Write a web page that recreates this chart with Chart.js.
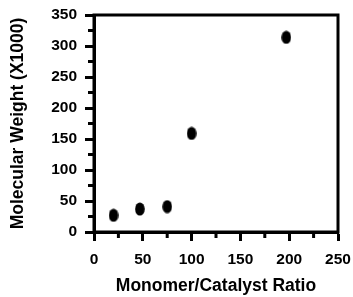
<!DOCTYPE html>
<html>
<head>
<meta charset="utf-8">
<script src="https://cdn.jsdelivr.net/npm/chart.js@4.4.0/dist/chart.umd.min.js"></script>
<style>
  html, body { margin: 0; padding: 0; background: #fff; }
  #wrap { width: 353px; height: 297px; position: relative; }
</style>
</head>
<body>
<div id="wrap"><canvas id="mwChart"></canvas></div>
<script>
// Monomer/catalyst ratio vs molecular weight (x1000)
const ratios = [20, 47, 75, 100, 197];
const molWeights = [27, 37, 41, 159, 314];
const xTicks = [0, 50, 100, 150, 200, 250];
const yTicks = [0, 50, 100, 150, 200, 250, 300, 350];

// dots in the original are slightly taller than wide
const dot = document.createElement("canvas");
dot.width = 10;
dot.height = 14;
const dctx = dot.getContext("2d");
dctx.fillStyle = "#000";
dctx.beginPath();
dctx.ellipse(5, 7, 4.8, 6.6, 0, 0, Math.PI * 2);
dctx.fill();

// box around the plot + short minor ticks between labelled ones
const framePlugin = {
  id: "frame",
  afterDraw(chart) {
    const { ctx, chartArea, scales } = chart;
    ctx.save();
    ctx.strokeStyle = "#000";
    ctx.lineWidth = 3;
    ctx.strokeRect(chartArea.left, chartArea.top, chartArea.right - chartArea.left, chartArea.bottom - chartArea.top);
    ctx.beginPath();
    for (let v = 25; v < 350; v += 50) {
      const y = scales.y.getPixelForValue(v);
      ctx.moveTo(chartArea.left, y);
      ctx.lineTo(chartArea.left - 6, y);
    }
    for (let v = 25; v < 250; v += 50) {
      const x = scales.x.getPixelForValue(v);
      ctx.moveTo(x, chartArea.bottom);
      ctx.lineTo(x, chartArea.bottom + 6);
    }
    ctx.stroke();
    ctx.restore();
  },
};

const tickFont = { family: "'Liberation Sans', Arial, sans-serif", size: 15.5, weight: "bold" };
const titleFont = { family: "'Liberation Sans', Arial, sans-serif", size: 17.5, weight: "bold" };

new Chart(document.getElementById("mwChart"), {
  type: "scatter",
  data: {
    datasets: [
      {
        data: ratios.map((r, i) => ({ x: r, y: molWeights[i] })),
        pointStyle: dot,
        pointRadius: 6,
        backgroundColor: "#000",
        borderColor: "#000",
      },
    ],
  },
  options: {
    responsive: true,
    maintainAspectRatio: false,
    animation: false,
    events: [],
    layout: { padding: { top: 15, right: 15, left: 0, bottom: 0 } },
    plugins: { legend: { display: false }, tooltip: { enabled: false } },
    scales: {
      x: {
        type: "linear",
        min: 0,
        max: 250,
        afterBuildTicks: (scale) => {
          scale.ticks = xTicks.map((v) => ({ value: v }));
        },
        afterFit: (scale) => {
          scale.height = 65;
          scale.paddingLeft = 0;
          scale.paddingRight = 0;
        },
        ticks: { color: "#000", font: tickFont, padding: 9, maxRotation: 0 },
        grid: { drawOnChartArea: false, tickLength: 9, tickWidth: 3, color: "#000" },
        border: { width: 3, color: "#000" },
        title: {
          display: true,
          text: "Monomer/Catalyst Ratio",
          color: "#000",
          font: titleFont,
          padding: { top: 0, bottom: 0 },
        },
      },
      y: {
        type: "linear",
        min: 0,
        max: 350,
        afterBuildTicks: (scale) => {
          scale.ticks = yTicks.map((v) => ({ value: v }));
        },
        afterFit: (scale) => {
          scale.width = 94;
          scale.paddingTop = 0;
          scale.paddingBottom = 0;
        },
        ticks: { color: "#000", font: tickFont, padding: 8 },
        grid: { drawOnChartArea: false, tickLength: 9, tickWidth: 3, color: "#000" },
        border: { width: 3, color: "#000" },
        title: {
          display: true,
          text: "Molecular Weight (X1000)",
          color: "#000",
          font: titleFont,
          padding: { top: 8, bottom: 0 },
        },
      },
    },
  },
  plugins: [framePlugin],
});
</script>
</body>
</html>
